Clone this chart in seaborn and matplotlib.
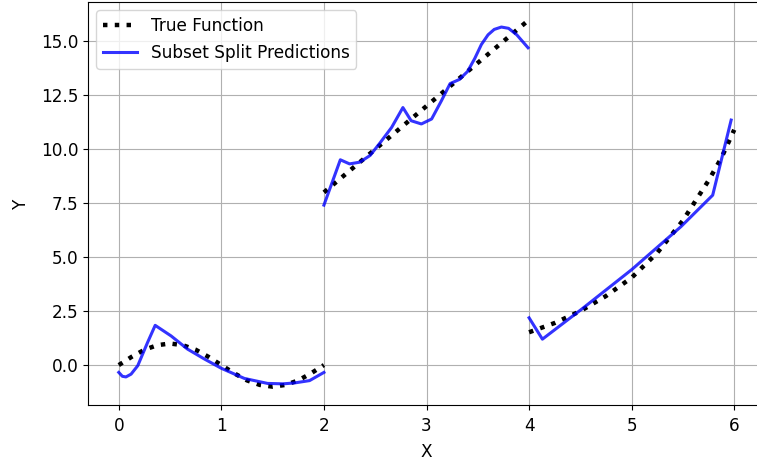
import pandas as pd
import seaborn as sns
import matplotlib.pyplot as plt

# true function, three pieces
true_x1 = [0, 0.125, 0.25, 0.375, 0.5, 0.625, 0.75, 0.875, 1.0,
           1.125, 1.25, 1.375, 1.5, 1.625, 1.75, 1.875, 2.0]
true_y1 = [0, 0.38, 0.71, 0.92, 1.0, 0.92, 0.71, 0.38, 0,
           -0.38, -0.71, -0.92, -1.0, -0.92, -0.71, -0.38, 0]
true_x2 = [2.0, 3.0, 3.98]
true_y2 = [8.0, 12.0, 15.92]
true_x3 = [4.0, 4.25, 4.5, 4.75, 5.0, 5.25, 5.5, 5.75, 5.875, 6.0]
true_y3 = [1.52, 1.95, 2.5, 3.2, 4.05, 5.2, 6.7, 8.55, 9.6, 10.9]

# subset split predictions
pred_x1 = [0.0, 0.035, 0.07, 0.12, 0.185, 0.28, 0.355, 0.51, 0.67, 0.835, 1.0,
           1.225, 1.45, 1.6, 1.71, 1.86, 2.0]
pred_y1 = [-0.34, -0.52, -0.55, -0.42, -0.03, 1.04, 1.84, 1.35, 0.74, 0.28, -0.15,
           -0.62, -0.85, -0.87, -0.83, -0.72, -0.34]
pred_x2 = [2.0, 2.16, 2.25, 2.35, 2.45, 2.54, 2.66, 2.77, 2.85, 2.95, 3.05,
           3.145, 3.23, 3.32, 3.4, 3.47, 3.535, 3.6, 3.66, 3.73, 3.8, 3.88, 3.99]
pred_y2 = [7.41, 9.51, 9.32, 9.4, 9.71, 10.25, 11.01, 11.93, 11.32, 11.17, 11.4,
           12.24, 13.04, 13.23, 13.6, 14.2, 14.85, 15.3, 15.55, 15.66, 15.6, 15.3, 14.7]
pred_x3 = [4.0, 4.13, 4.51, 5.0, 5.48, 5.79, 5.97]
pred_y3 = [2.19, 1.2, 2.58, 4.42, 6.41, 7.87, 11.35]

true_parts = [(true_x1, true_y1), (true_x2, true_y2), (true_x3, true_y3)]
pred_parts = [(pred_x1, pred_y1), (pred_x2, pred_y2), (pred_x3, pred_y3)]

plt.rcParams['font.size'] = 12.2

fig = plt.figure(figsize=(7.57, 4.63), dpi=100)
ax = fig.add_axes([88 / 757, 58 / 463, 677 / 757, 403 / 463])

for i, (xs, ys) in enumerate(true_parts):
    sns.lineplot(x=xs, y=ys, color='black', linestyle=':', linewidth=3.2,
                 label='True Function' if i == 0 else None, ax=ax)
for i, (xs, ys) in enumerate(pred_parts):
    sns.lineplot(x=xs, y=ys, color='blue', alpha=0.8, linewidth=2.2,
                 label='Subset Split Predictions' if i == 0 else None, ax=ax)

ax.set_xlim(-0.3, 6.3)
ax.set_ylim(-1.85, 16.82)
ax.set_xlabel('X', labelpad=6)
ax.set_ylabel('Y', labelpad=8)
ax.tick_params(axis='x', pad=5)
ax.grid(True)
ax.legend(loc='upper left')

fig.savefig('out.png', dpi=100)
